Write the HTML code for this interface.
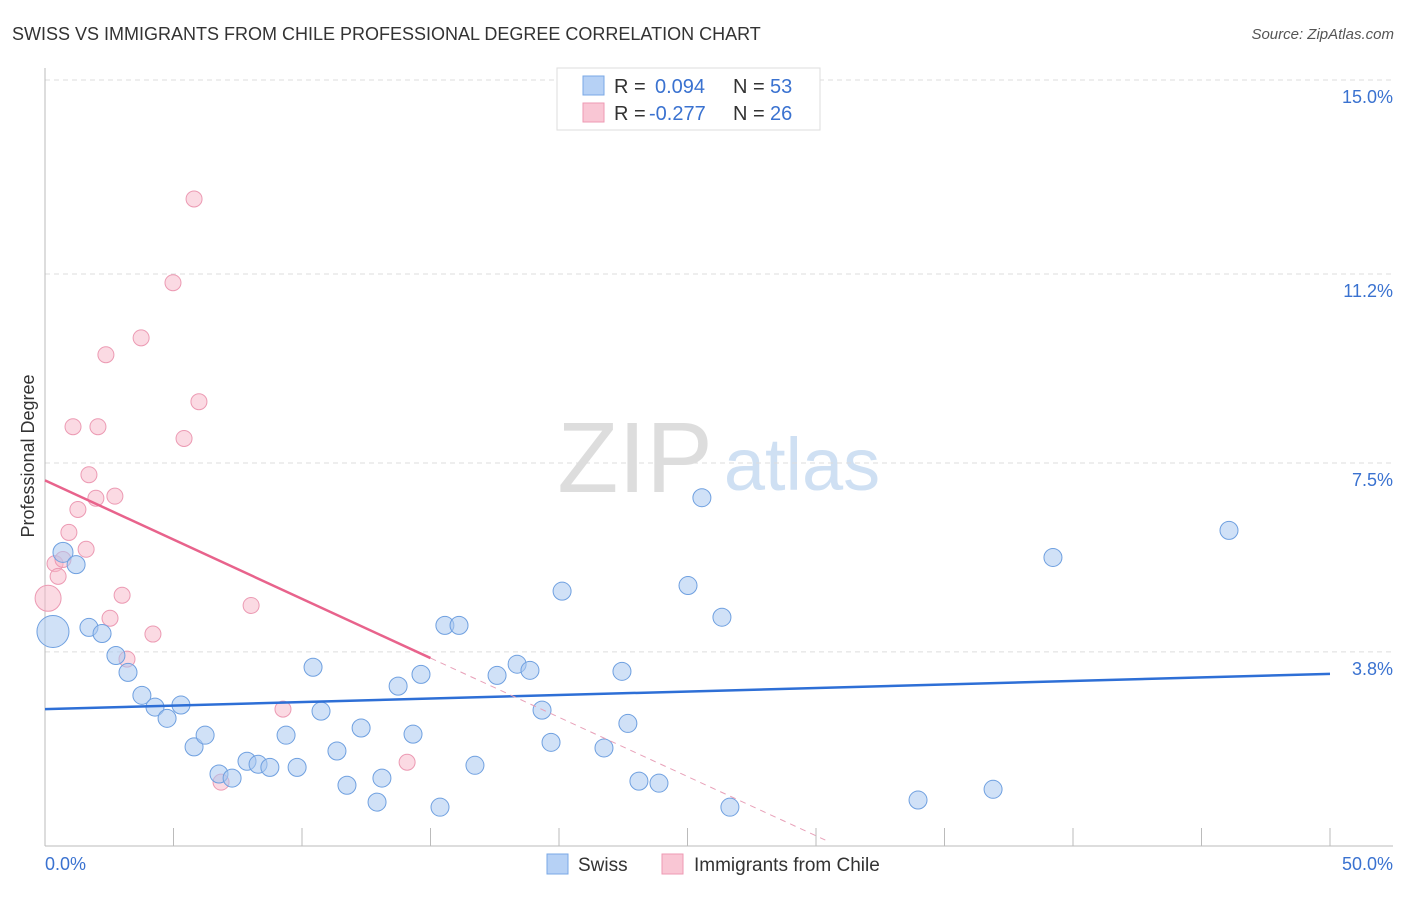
<!DOCTYPE html>
<html><head><meta charset="utf-8"><style>
body{margin:0;background:#fff;font-family:"Liberation Sans",sans-serif;}
svg text{font-family:"Liberation Sans",sans-serif;}
</style></head><body>
<svg id="chart" width="1406" height="892">
<text x="12" y="40" font-size="18" fill="#333">SWISS VS IMMIGRANTS FROM CHILE PROFESSIONAL DEGREE CORRELATION CHART</text>
<text x="1394" y="39" font-size="15" fill="#555" text-anchor="end" font-style="italic">Source: ZipAtlas.com</text>
<text x="34" y="456" font-size="18" fill="#333" text-anchor="middle" transform="rotate(-90 34 456)">Professional Degree</text>
<g><text x="635" y="492" font-size="100" fill="#ddd" text-anchor="middle" font-family="Liberation Serif">ZIP</text><text x="802" y="490" font-size="74" fill="#cfe0f3" text-anchor="middle">atlas</text></g>
<g id="grid"></g><g id="pts"></g><g id="lines"></g>
<g>
<rect x="557" y="68" width="263" height="62" fill="#fff" stroke="#ddd"/>
<rect x="583" y="76" width="21" height="19" fill="#b6d1f5" stroke="#7aa8e6"/>
<rect x="583" y="103" width="21" height="19" fill="#f9c6d4" stroke="#ee9ab3"/>
<text y="93" font-size="20" fill="#333"><tspan x="614">R =</tspan><tspan x="655" fill="#3a72d0">0.094</tspan><tspan x="733">N =</tspan><tspan x="770" fill="#3a72d0">53</tspan></text>
<text y="120" font-size="20" fill="#333"><tspan x="614">R =</tspan><tspan x="649" fill="#3a72d0">-0.277</tspan><tspan x="733">N =</tspan><tspan x="770" fill="#3a72d0">26</tspan></text>
</g>
<g>
<rect x="547" y="854" width="21" height="20" fill="#b6d1f5" stroke="#7aa8e6"/>
<text x="578" y="871" font-size="19" fill="#333">Swiss</text>
<rect x="662" y="854" width="21" height="20" fill="#f9c6d4" stroke="#ee9ab3"/>
<text x="694" y="871" font-size="19" fill="#333">Immigrants from Chile</text>
</g>
</svg>
<script>
const yTicks=[15.0,11.2,7.5,3.8];
const yTickLabels=["15.0%","11.2%","7.5%","3.8%"];
const xTickLabels=["0.0%","50.0%"];
const swissX=[0.70,1.21,0.31,1.71,2.22,2.76,3.23,3.77,4.28,4.75,5.29,5.80,6.23,6.77,7.28,7.86,8.29,8.75,9.38,9.81,10.43,10.74,11.36,11.75,12.30,12.92,13.11,13.74,14.32,14.63,15.37,15.56,16.11,16.73,17.59,18.37,18.87,19.34,19.69,20.12,21.75,22.45,22.68,23.11,23.89,25.02,25.56,26.34,26.65,33.97,36.89,39.22,46.07];
const swissY=[5.75,5.51,4.20,4.28,4.16,3.73,3.40,2.95,2.72,2.50,2.76,1.94,2.17,1.41,1.33,1.66,1.60,1.54,2.17,1.54,3.50,2.64,1.86,1.19,2.31,0.86,1.33,3.13,2.19,3.36,0.76,4.32,4.32,1.58,3.34,3.56,3.44,2.66,2.03,4.99,1.92,3.42,2.40,1.27,1.23,5.10,6.82,4.48,0.76,0.90,1.11,5.65,6.18];
const swissR=[10,9,16,9,9,9,9,9,9,9,9,9,9,9,9,9,9,9,9,9,9,9,9,9,9,9,9,9,9,9,9,9,9,9,9,9,9,9,9,9,9,9,9,9,9,9,9,9,9,9,9,9,9];
const chileX=[5.80,4.98,3.74,2.37,5.99,1.09,2.06,5.41,1.71,1.98,2.72,1.28,0.93,1.60,0.39,0.70,0.51,0.12,3.00,2.53,4.20,3.19,8.02,9.26,14.09,6.85];
const chileY=[12.67,11.03,9.95,9.62,8.70,8.21,8.21,7.98,7.27,6.81,6.85,6.59,6.14,5.81,5.53,5.61,5.28,4.85,4.91,4.46,4.15,3.66,4.71,2.68,1.64,1.25];
const chileR=[8,8,8,8,8,8,8,8,8,8,8,8,8,8,8,8,8,13,8,8,8,8,8,8,8,8];
const swissTrend=[2.68,3.37]; // value at x=0 and x=50
const chileTrend=[7.16,-0.232]; // intercept, slope
const NS="http://www.w3.org/2000/svg";
const X=v=>45+v*25.7, Y=v=>846-v*51.07;
function mk(t,a,p){const e=document.createElementNS(NS,t);for(const k in a)e.setAttribute(k,a[k]);p.appendChild(e);return e;}
const g=document.getElementById('grid');
yTicks.forEach((t,i)=>{
 const l=mk('line',{x1:45,x2:1393,y1:Y(t),y2:Y(t),stroke:'#ddd','stroke-dasharray':'5,4'},g);
 
 
 const tx=mk('text',{x:1393,y:Y(t)+23,'font-size':18,fill:'#3a72d0','text-anchor':'end'},g);tx.textContent=yTickLabels[i];
 
 
});
mk('line',{x1:45,x2:45,y1:68,y2:846,stroke:'#bbb'},g);
mk('line',{x1:45,x2:1393,y1:846,y2:846,stroke:'#bbb'},g);
for(let i=0;i<=10;i++){const t=mk('line',{x1:X(i*5),x2:X(i*5),y1:828,y2:846,stroke:'#bbb'},g);
 
 }
[[0,'start',45],[50,'end',1393]].forEach((a,i)=>{const t=mk('text',{x:a[2],y:870,'font-size':18,fill:'#3a72d0','text-anchor':a[1]},g);t.textContent=xTickLabels[i];
 
 });
const p=document.getElementById('pts');
chileX.forEach((v,i)=>{const c=mk('circle',{cx:X(v),cy:Y(chileY[i]),r:chileR[i],fill:'rgba(247,182,200,0.5)',stroke:'#ec9ab3','stroke-width':1},p);
 
 });
swissX.forEach((v,i)=>{const c=mk('circle',{cx:X(v),cy:Y(swissY[i]),r:swissR[i],fill:'rgba(169,201,240,0.55)',stroke:'#6fa0e0','stroke-width':1},p);
 
 });
const L=document.getElementById('lines');
const s=mk('line',{x1:X(0),y1:Y(swissTrend[0]),x2:X(50),y2:Y(swissTrend[1]),stroke:'#2e6fd6','stroke-width':2.5},L);


const cf=v=>chileTrend[0]+chileTrend[1]*v;
const c1=mk('line',{x1:X(0),y1:Y(cf(0)),x2:X(15),y2:Y(cf(15)),stroke:'#e8638c','stroke-width':2.5},L);


const xe=-chileTrend[0]/chileTrend[1]-0.5;
const c2=mk('line',{x1:X(15),y1:Y(cf(15)),x2:X(xe),y2:Y(cf(xe)),stroke:'#e8a0b8','stroke-width':1,'stroke-dasharray':'6,5'},L);


</script>
</body></html>
